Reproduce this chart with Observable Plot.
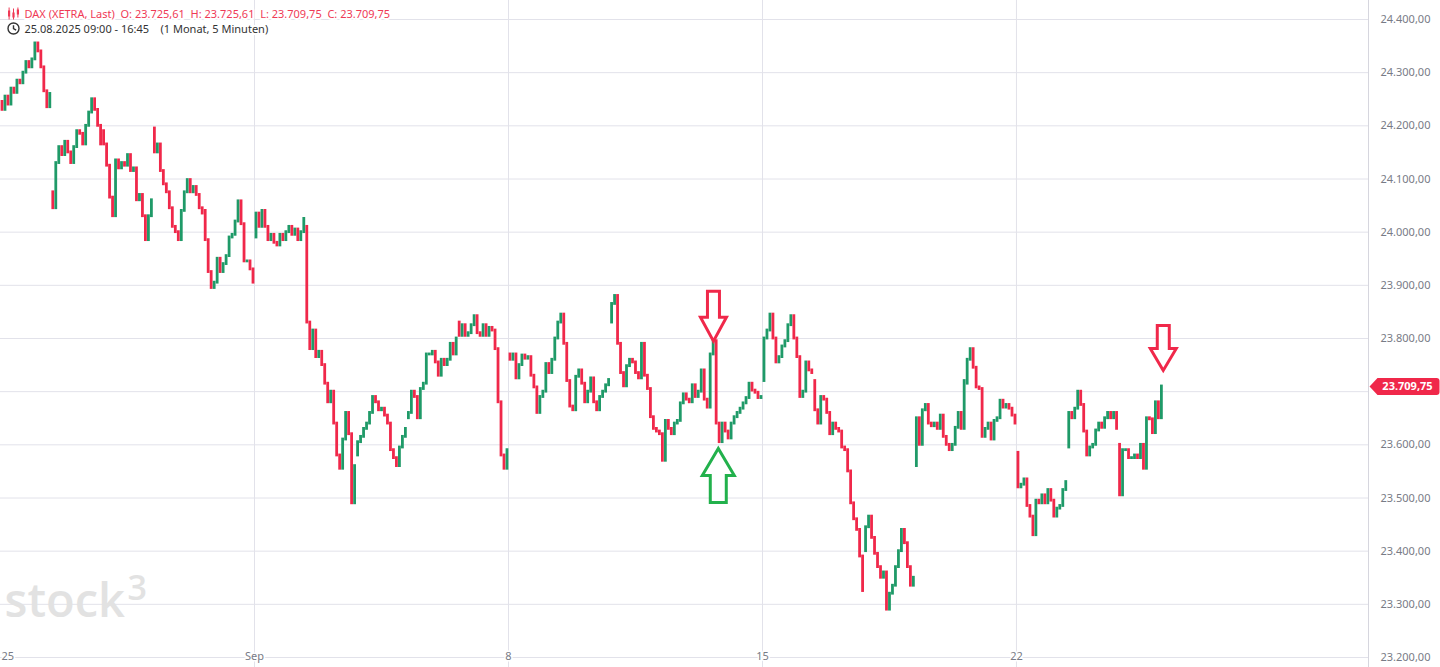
<!DOCTYPE html>
<html><head><meta charset="utf-8">
<script src="https://cdn.jsdelivr.net/npm/d3@7/dist/d3.min.js"></script>
<script src="https://cdn.jsdelivr.net/npm/@observablehq/plot@0.6/dist/plot.umd.min.js"></script>
<style>html,body{margin:0;padding:0;background:#fff;overflow:hidden}</style>
</head><body><div id="chart"></div>
<script>
// Half-hour price path per trading day (first value = open, then closes)
const d0  = [24245,24230,24255,24240,24270,24262,24285,24280,24300,24320,24310,24325,24355,24340,24310,24265,24235,24260];
const d1  = [24075,24045,24130,24160,24145,24170,24150,24130,24160,24190,24185,24165,24200,24225,24250,24230,24200,24165];
const d2  = [24190,24165,24125,24065,24030,24135,24120,24130,24125,24145,24115,24120,24060,24070,24030,23985,24030,24060];
const d3  = [24195,24150,24165,24115,24090,24075,24045,24010,24000,23985,24040,24075,24098,24075,24085,24070,24045,24035];
const d4  = [24040,23985,23925,23895,23905,23950,23925,23940,23955,23990,23995,24020,24058,24015,23945,23945,23930,23905];
const d5  = [23990,24035,24010,24040,24010,23985,23995,23980,23975,23995,23985,24000,24010,23995,24005,23985,24000,24025];
const d6  = [24010,23830,23780,23815,23765,23775,23750,23715,23680,23700,23640,23580,23555,23610,23660,23620,23490,23560];
const d7  = [23580,23605,23615,23630,23640,23660,23690,23680,23665,23668,23655,23640,23590,23575,23560,23595,23615,23630];
const d8  = [23650,23660,23700,23690,23650,23705,23715,23770,23770,23775,23755,23730,23760,23750,23760,23790,23770,23800];
const d9  = [23830,23805,23825,23805,23810,23825,23842,23810,23805,23825,23805,23820,23815,23780,23680,23580,23555,23590];
const d10 = [23770,23760,23770,23725,23750,23768,23762,23765,23730,23708,23660,23690,23700,23752,23735,23760,23800,23830];
const d11 = [23830,23845,23790,23720,23672,23665,23728,23740,23715,23680,23700,23725,23680,23665,23690,23700,23712,23722];
const d12 = [23830,23865,23880,23790,23735,23710,23748,23760,23755,23735,23725,23790,23730,23705,23652,23630,23625,23620];
const d13 = [23620,23570,23645,23630,23620,23640,23645,23678,23695,23685,23680,23712,23690,23700,23740,23685,23670,23770];
const d14 = [23770,23795,23640,23605,23640,23625,23612,23640,23652,23660,23668,23678,23688,23715,23702,23698,23688,23690];
const d15 = [23720,23800,23815,23845,23800,23755,23765,23785,23795,23825,23842,23800,23765,23690,23700,23755,23740,23735];
const d16 = [23720,23665,23640,23690,23685,23660,23620,23640,23630,23625,23595,23590,23550,23490,23460,23440,23390,23325];
const d17 = [23400,23445,23465,23425,23395,23370,23350,23360,23290,23320,23335,23370,23400,23440,23415,23370,23335,23350];
const d18 = [23560,23650,23600,23665,23675,23640,23635,23640,23630,23655,23615,23600,23590,23600,23632,23660,23630,23720];
const d19 = [23715,23760,23780,23745,23708,23705,23615,23630,23640,23610,23645,23650,23683,23670,23675,23668,23655,23640];
const d20 = [23585,23520,23525,23535,23485,23465,23430,23495,23490,23505,23490,23515,23495,23465,23480,23485,23515,23530];
const d21 = [23595,23660,23650,23668,23700,23675,23625,23580,23595,23600,23627,23640,23632,23650,23660,23650,23660,23630];
const d22 = [23600,23505,23590,23590,23575,23575,23580,23575,23600,23555,23650,23648,23622,23680,23650,23709.75];

const days = [d0,d1,d2,d3,d4,d5,d6,d7,d8,d9,d10,d11,d12,d13,d14,d15,d16,d17,d18,d19,d20,d21,d22];
const barsPerDay = 17;

const xTickDays   = [0, 5, 10, 15, 20];
const xTickLabels = ["25", "Sep", "8", "15", "22"];
const yTicks = [23200,23300,23400,23500,23600,23700,23800,23900,24000,24100,24200,24300,24400];

const lastOHLC = [23725.61, 23725.61, 23709.75, 23709.75];
const headerRange = "25.08.2025 09:00 - 16:45";
const headerPeriod = "(1 Monat, 5 Minuten)";

// annotation arrows: [day position, price at tip]
const arrowDown = [[14.035, 23795], [22.89, 23740]];
const arrowUp   = [[14.13, 23593]];

const RED = "#f0284a", GREEN = "#1f9a68", GRID = "#e2e2ea";

const candles = [];
days.forEach((arr, di) => {
  for (let i = 1; i < arr.length; i++) {
    candles.push({x: di + (i - 0.5) / barsPerDay, open: arr[i-1], close: arr[i]});
  }
});

function fmt(v) {
  const s = Math.abs(v).toFixed(2).split(".");
  const ip = s[0].replace(/\B(?=(\d{3})+(?!\d))/g, ".");
  return (v < 0 ? "-" : "") + ip + "," + s[1];
}
const nb = "\u00a0\u00a0";
const headerLine1 = `DAX (XETRA, Last)${nb}O: ${fmt(lastOHLC[0])}${nb}H: ${fmt(lastOHLC[1])}${nb}L: ${fmt(lastOHLC[2])}${nb}C: ${fmt(lastOHLC[3])}`;
const headerLine2 = `${headerRange}${nb}${nb}${headerPeriod}`;

function arrowSymbol(hw, sw, hh, len, up) {
  const s = up ? -1 : 1;
  return {draw(ctx) {
    ctx.moveTo(0, 0);
    ctx.lineTo(-hw, -s*hh);
    ctx.lineTo(-sw, -s*hh);
    ctx.lineTo(-sw, -s*len);
    ctx.lineTo(sw, -s*len);
    ctx.lineTo(sw, -s*hh);
    ctx.lineTo(hw, -s*hh);
    ctx.closePath();
  }};
}
const badgeSymbol = {draw(ctx) {
  ctx.moveTo(1, 0);
  ctx.lineTo(9, -8.5);
  ctx.lineTo(68, -8.5);
  ctx.quadraticCurveTo(71, -8.5, 71, -5.5);
  ctx.lineTo(71, 5.5);
  ctx.quadraticCurveTo(71, 8.5, 68, 8.5);
  ctx.lineTo(9, 8.5);
  ctx.closePath();
}};
const clockSymbol = {draw(ctx) {
  ctx.moveTo(5.5, 0);
  ctx.arc(0, 0, 5.5, 0, 2*Math.PI);
  ctx.moveTo(0, -3.2);
  ctx.lineTo(0, 0);
  ctx.lineTo(2.6, 1.6);
}};
const candleIcon = {draw(ctx) {
  ctx.rect(-5.5, -3, 2.2, 6); ctx.rect(-4.9, -6, 1, 12);
  ctx.rect(-1.1, -1, 2.2, 5); ctx.rect(-0.5, -5, 1, 11);
  ctx.rect(3.3, -4, 2.2, 5); ctx.rect(3.9, -6, 1, 10);
}};

const xMax = 26.93;
// axis labels hidden behind the last-price badge
const axisLabels = yTicks.filter(t => Math.abs(t - lastOHLC[3]) > 20);

const chart = Plot.plot({
  width: 1440, height: 667,
  marginLeft: 0, marginRight: 72, marginTop: 0, marginBottom: 0,
  style: {fontFamily: "'Noto Sans', sans-serif", fontSize: "11px", color: "#787b86", background: "#fff", overflow: "visible"},
  x: {domain: [0, xMax], range: [0, 1368], axis: null},
  y: {domain: [23200, 24400], range: [657, 19], axis: null},
  marks: [
    Plot.ruleY(yTicks, {stroke: GRID, strokeWidth: 1}),
    Plot.ruleX(xTickDays.slice(1), {stroke: GRID, strokeWidth: 1}),
    Plot.ruleX([xMax], {stroke: "#d6d6de", strokeWidth: 1}),
    // logo
    Plot.text(["stock"], {frameAnchor: "bottom-left", dx: 4, dy: -51, text: d => d, textAnchor: "start", lineAnchor: "bottom", fontSize: 47, fontWeight: 600, fill: "#e2e2e2", fontFamily: "'Open Sans', sans-serif"}),
    Plot.text(["3"], {frameAnchor: "bottom-left", dx: 127, dy: -92, text: d => d, textAnchor: "start", lineAnchor: "top", fontSize: 34, fontWeight: 600, fill: "#e2e2e2", fontFamily: "'Open Sans', sans-serif"}),
    // candles
    Plot.ruleX(candles, {x: "x", y1: "open", y2: "close", stroke: d => d.close >= d.open ? GREEN : RED, strokeWidth: 2.8, strokeLinecap: "square"}),
    // arrows
    Plot.dot(arrowDown.filter((d, i) => i === 0), {x: d => d[0], y: d => d[1], r: 10, symbol: arrowSymbol(13, 6, 24, 50, false), fill: "#fff", stroke: RED, strokeWidth: 3, strokeLinejoin: "miter"}),
    Plot.dot(arrowDown.filter((d, i) => i === 1), {x: d => d[0], y: d => d[1], r: 10, symbol: arrowSymbol(13, 6, 22, 45, false), fill: "#fff", stroke: RED, strokeWidth: 3, strokeLinejoin: "miter"}),
    Plot.dot(arrowUp, {x: d => d[0], y: d => d[1], r: 10, symbol: arrowSymbol(16, 8, 27, 54, true), fill: "#fff", stroke: "#22b14c", strokeWidth: 3, strokeLinejoin: "miter"}),
    // right axis labels
    Plot.text(axisLabels, {frameAnchor: "right", y: d => d, text: d => fmt(d), textAnchor: "start", dx: 12, fill: "#787b86"}),
    // bottom labels
    Plot.text([0], {x: d => xTickDays[d], frameAnchor: "bottom", dy: -8, text: d => xTickLabels[d], textAnchor: "start", dx: 1, fill: "#787b86", stroke: "#fff", strokeWidth: 3}),
    Plot.text([1,2,3,4], {x: d => xTickDays[d], frameAnchor: "bottom", dy: -8, text: d => xTickLabels[d], textAnchor: "middle", fill: "#787b86", stroke: "#fff", strokeWidth: 3}),
    // last price badge
    Plot.dot([lastOHLC[3]], {frameAnchor: "right", y: d => d, r: 10, symbol: badgeSymbol, fill: RED}),
    Plot.text([lastOHLC[3]], {frameAnchor: "right", y: d => d, dx: 39, text: d => fmt(d), textAnchor: "middle", fill: "#fff", fontWeight: 700}),
    // header
    Plot.text([headerLine1], {frameAnchor: "top-left", dx: 24, dy: 10, text: d => d, textAnchor: "start", fill: "#ef3a56", stroke: "#fff", strokeWidth: 4}),
    Plot.text([headerLine2], {frameAnchor: "top-left", dx: 24, dy: 25, text: d => d, textAnchor: "start", fill: "#333", stroke: "#fff", strokeWidth: 4}),
    Plot.dot([0], {frameAnchor: "top-left", dx: 13, dy: 13, r: 6, symbol: candleIcon, fill: "#ef3a56"}),
    Plot.dot([0], {frameAnchor: "top-left", dx: 13, dy: 28, r: 6, symbol: clockSymbol, fill: "none", stroke: "#333", strokeWidth: 1.4})
  ]
});
document.getElementById("chart").appendChild(chart);
</script>
</body></html>
